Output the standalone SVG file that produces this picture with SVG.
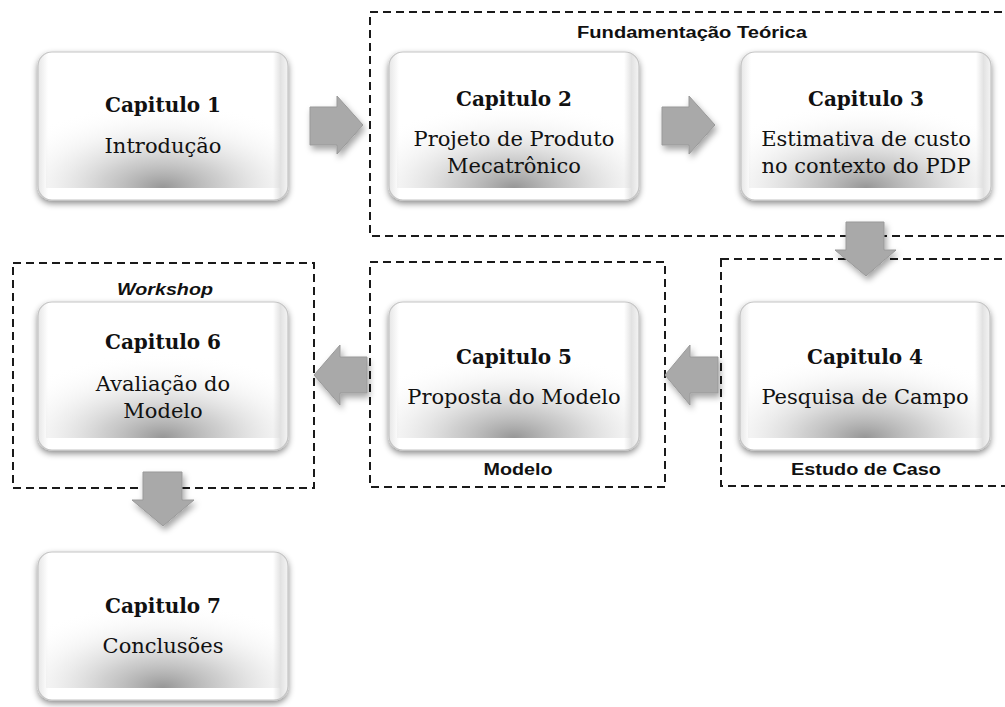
<svg xmlns="http://www.w3.org/2000/svg" xmlns:xlink="http://www.w3.org/1999/xlink" width="1005" height="707" viewBox="0 0 1005 707">
<style>
.t{font-family:"DejaVu Serif","Liberation Serif",serif;fill:#111;text-anchor:middle}
.h{font-weight:bold;font-size:20px}
.b{font-size:21px}
.lab{font-family:"Liberation Sans",Arial,sans-serif;font-weight:bold;font-size:16px;fill:#111;text-anchor:middle}
.dash{fill:none;stroke:#1a1a1a;stroke-width:2;stroke-dasharray:8 5}
.arr{fill:#a9a9a9;stroke:#999;stroke-width:1;filter:url(#ash)}
</style>
<defs>
<filter id="sh" x="-10%" y="-10%" width="120%" height="130%">
<feDropShadow dx="0" dy="3" stdDeviation="3" flood-color="#000" flood-opacity="0.45"/>
</filter>
<filter id="ash" x="-30%" y="-30%" width="170%" height="170%">
<feDropShadow dx="2" dy="4" stdDeviation="3" flood-color="#000" flood-opacity="0.35"/>
</filter>
<radialGradient id="shade" cx="0.5" cy="1" r="0.75" fx="0.5" fy="1">
<stop offset="0" stop-color="#8a8a8a" stop-opacity="0.9"/>
<stop offset="0.35" stop-color="#b0b0b0" stop-opacity="0.6"/>
<stop offset="0.7" stop-color="#dcdcdc" stop-opacity="0.25"/>
<stop offset="1" stop-color="#ffffff" stop-opacity="0"/>
</radialGradient>
<linearGradient id="bev" x1="0" y1="0" x2="1" y2="0">
<stop offset="0" stop-color="#e6e6e6"/>
<stop offset="0.04" stop-color="#ffffff"/>
<stop offset="0.94" stop-color="#ffffff"/>
<stop offset="0.97" stop-color="#e2e2e2"/>
<stop offset="1" stop-color="#f4f4f4"/>
</linearGradient>
<symbol id="card" width="256" height="156" overflow="visible">
<rect x="0" y="0" width="250" height="148" rx="14" fill="url(#bev)" stroke="#c4c4c4" stroke-width="1.2" filter="url(#sh)"/>
<rect x="8" y="22" width="234" height="114" fill="url(#shade)"/>
</symbol>
</defs>

<g id="groups">
<rect class="dash" x="370" y="12" width="660" height="224"/>
<rect class="dash" x="721" y="259" width="310" height="227"/>
<rect class="dash" x="370" y="262" width="295" height="225"/>
<rect class="dash" x="13" y="263" width="301" height="225"/>
<text class="lab" x="692" y="38" textLength="230" lengthAdjust="spacingAndGlyphs">Fundamentação Teórica</text>
<text class="lab" x="866" y="475" textLength="150" lengthAdjust="spacingAndGlyphs">Estudo de Caso</text>
<text class="lab" x="518" y="475" textLength="69" lengthAdjust="spacingAndGlyphs">Modelo</text>
<text class="lab" x="165" y="295" font-style="italic" textLength="96" lengthAdjust="spacingAndGlyphs">Workshop</text>
</g>

<g id="n1"><use xlink:href="#card" href="#card" x="38" y="52"/>
<text class="t h" x="163" y="112">Capitulo 1</text>
<text class="t b" x="163" y="153">Introdução</text></g>

<g id="n2"><use xlink:href="#card" href="#card" x="389" y="52"/>
<text class="t h" x="514" y="106">Capitulo 2</text>
<text class="t b" x="514" y="146">Projeto de Produto</text>
<text class="t b" x="514" y="173">Mecatrônico</text></g>

<g id="n3"><use xlink:href="#card" href="#card" x="741" y="52"/>
<text class="t h" x="866" y="106">Capitulo 3</text>
<text class="t b" x="866" y="146">Estimativa de custo</text>
<text class="t b" x="866" y="173">no contexto do PDP</text></g>

<g id="n4"><use xlink:href="#card" href="#card" x="740" y="302"/>
<text class="t h" x="865" y="364">Capitulo 4</text>
<text class="t b" x="865" y="404">Pesquisa de Campo</text></g>

<g id="n5"><use xlink:href="#card" href="#card" x="389" y="302"/>
<text class="t h" x="514" y="364">Capitulo 5</text>
<text class="t b" x="514" y="404">Proposta do Modelo</text></g>

<g id="n6"><use xlink:href="#card" href="#card" x="38" y="302"/>
<text class="t h" x="163" y="349">Capitulo 6</text>
<text class="t b" x="163" y="391">Avaliação do</text>
<text class="t b" x="163" y="418">Modelo</text></g>

<g id="n7"><use xlink:href="#card" href="#card" x="38" y="552"/>
<text class="t h" x="163" y="613">Capitulo 7</text>
<text class="t b" x="163" y="653">Conclusões</text></g>

<g id="connectors">
<polygon class="arr" points="310,107 337,107 337,96 363,125 337,154 337,145 310,145"/>
<polygon class="arr" points="662,107 689,107 689,96 715,125 689,154 689,145 662,145"/>
<polygon class="arr" points="846,222 884,222 884,250 896,250 866,276 835,250 846,250"/>
<polygon class="arr" points="718,357 690,357 690,345 665,375 690,405 690,393 718,393"/>
<polygon class="arr" points="367,357 340,357 340,345 314,375 340,405 340,393 367,393"/>
<polygon class="arr" points="143,472 182,472 182,500 194,500 163,526 132,500 143,500"/>
</g>
</svg>
